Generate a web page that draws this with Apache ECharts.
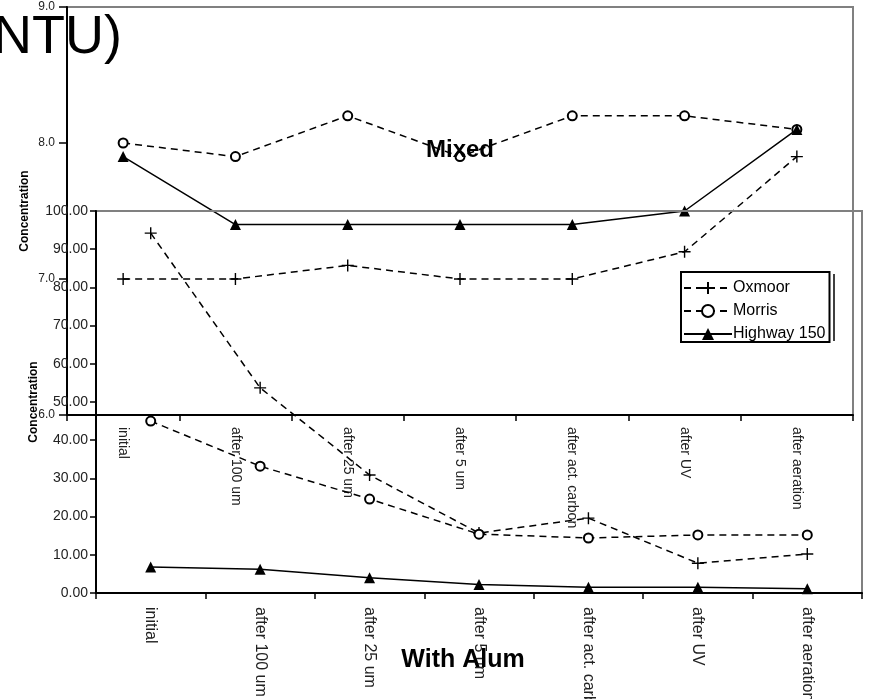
<!DOCTYPE html>
<html><head><meta charset="utf-8">
<script src="https://cdn.jsdelivr.net/npm/echarts@6/dist/echarts.min.js"></script>
<style>html,body{margin:0;padding:0;background:#fff}#c{width:872px;height:699px}</style>
</head><body><div id="c"></div>
<script>
const categories = ['initial','after 100 um','after 25 um','after 5 um','after act. carbon','after UV','after aeration'];
const seriesNames = ['Oxmoor','Morris','Highway 150'];
// "Mixed" chart (back)
const mixedOxmoor  = [7.0, 7.0, 7.1, 7.0, 7.0, 7.2, 7.9];
const mixedMorris  = [8.0, 7.9, 8.2, 7.9, 8.2, 8.2, 8.1];
const mixedHighway = [7.9, 7.4, 7.4, 7.4, 7.4, 7.5, 8.1];
const mixedAxis = {min: 6, max: 9, interval: 1, decimals: 1};
// "With Alum" chart (front)
const alumOxmoor  = [94.2, 53.7, 30.9, 15.7, 19.6, 7.8, 10.2];
const alumMorris  = [45.0, 33.2, 24.6, 15.4, 14.4, 15.2, 15.2];
const alumHighway = [6.8, 6.2, 4.0, 2.2, 1.5, 1.5, 1.1];
const alumAxis = {min: 0, max: 100, interval: 10, decimals: 2};
const yAxisTitle = 'Concentration';

const FONT = 'Liberation Sans, Arial, sans-serif';
const plusPath = 'path://M0,6L12,6M6,0L6,12';

function styleFor(i, w) {
  if (i === 0) return {symbol: plusPath, symbolSize: 12, itemStyle: {color: '#000', borderColor: '#000', borderWidth: 1.4}, lineStyle: {color: '#000', width: w, type: [7, 5]}};
  if (i === 1) return {symbol: 'emptyCircle', symbolSize: 9, itemStyle: {color: '#000', borderColor: '#000', borderWidth: 1.5}, lineStyle: {color: '#000', width: w, type: [7, 5]}};
  return {symbol: 'triangle', symbolSize: 11, itemStyle: {color: '#000'}, lineStyle: {color: '#000', width: w, type: 'solid'}};
}
function mk(name, i, data, idx, z) {
  return Object.assign({type: 'line', name: name, data: data, xAxisIndex: idx, yAxisIndex: idx, z: z, showAllSymbol: true, animation: false}, styleFor(i, 1.5));
}
function yax(ax, idx, fs, gap, tickLen, margin) {
  return {
    type: 'value', gridIndex: idx, min: ax.min, max: ax.max, interval: ax.interval,
    name: yAxisTitle, nameLocation: 'middle', nameRotate: 90, nameGap: gap, nameMoveOverlap: false,
    nameTextStyle: {fontFamily: FONT, fontWeight: 'bold', fontSize: 12, color: '#000'},
    axisLine: {show: true, lineStyle: {color: '#000', width: 2}},
    axisTick: {show: true, length: tickLen, lineStyle: {color: '#000', width: 1.5}},
    axisLabel: {fontFamily: FONT, fontSize: fs, color: '#222', margin: margin, formatter: v => v.toFixed(ax.decimals)},
    splitLine: {show: false}
  };
}
function xax(idx, fs, margin) {
  return {
    type: 'category', gridIndex: idx, data: categories, boundaryGap: true,
    axisLine: {show: true, lineStyle: {color: '#000', width: 2}},
    axisTick: {show: true, length: 6, lineStyle: {color: '#000', width: 1.5}},
    axisLabel: {rotate: -90, interval: 0, fontFamily: FONT, fontSize: fs, color: '#222', margin: margin}
  };
}

const chart = echarts.init(document.getElementById('c'), null, {renderer: 'canvas'});
chart.setOption({
  backgroundColor: '#fff',
  animation: false,
  grid: [
    {left: 67, top: 7, width: 786, height: 408, show: true, borderColor: '#808080', borderWidth: 2, backgroundColor: 'transparent', outerBoundsMode: 'none', containLabel: false},
    {left: 96, top: 211, width: 766, height: 382, show: true, borderColor: '#808080', borderWidth: 2, backgroundColor: 'transparent', z: 5, outerBoundsMode: 'none', containLabel: false}
  ],
  xAxis: [xax(0, 14, 12), Object.assign(xax(1, 16, 14), {z: 6})],
  yAxis: [yax(mixedAxis, 0, 12, 36, 8, 12), Object.assign(yax(alumAxis, 1, 14, 56, 6, 8), {z: 6})],
  legend: {
    data: seriesNames, orient: 'vertical', left: 681, top: 272,
    itemWidth: 48, itemHeight: 15, itemGap: 7, padding: [8, 4, 0, 2],
    borderColor: '#000', borderWidth: 2, backgroundColor: '#fff', z: 10,
    textStyle: {fontFamily: FONT, fontSize: 16, color: '#000', padding: [0, 0, 0, -4]}
  },
  series: [
    mk(seriesNames[0], 0, mixedOxmoor, 0, 2),
    mk(seriesNames[1], 1, mixedMorris, 0, 2),
    mk(seriesNames[2], 2, mixedHighway, 0, 2),
    mk(seriesNames[0], 0, alumOxmoor, 1, 7),
    mk(seriesNames[1], 1, alumMorris, 1, 7),
    mk(seriesNames[2], 2, alumHighway, 1, 7)
  ],
  graphic: [
    {type: 'text', left: -7, top: 11, z: 1, style: {text: 'NTU)', fontFamily: FONT, fontSize: 54, fill: '#000'}},
    {type: 'text', x: 460, y: 150, z: 8, style: {text: 'Mixed', fontFamily: FONT, fontWeight: 'bold', fontSize: 24, fill: '#000', align: 'center', verticalAlign: 'middle'}},
    {type: 'text', x: 463, y: 660, z: 8, style: {text: 'With Alum', fontFamily: FONT, fontWeight: 'bold', fontSize: 25, fill: '#000', align: 'center', verticalAlign: 'middle'}},
    {type: 'line', z: 10, shape: {x1: 834, y1: 274, x2: 834, y2: 341}, style: {stroke: '#000', lineWidth: 1.5}}
  ]
});
</script></body></html>
